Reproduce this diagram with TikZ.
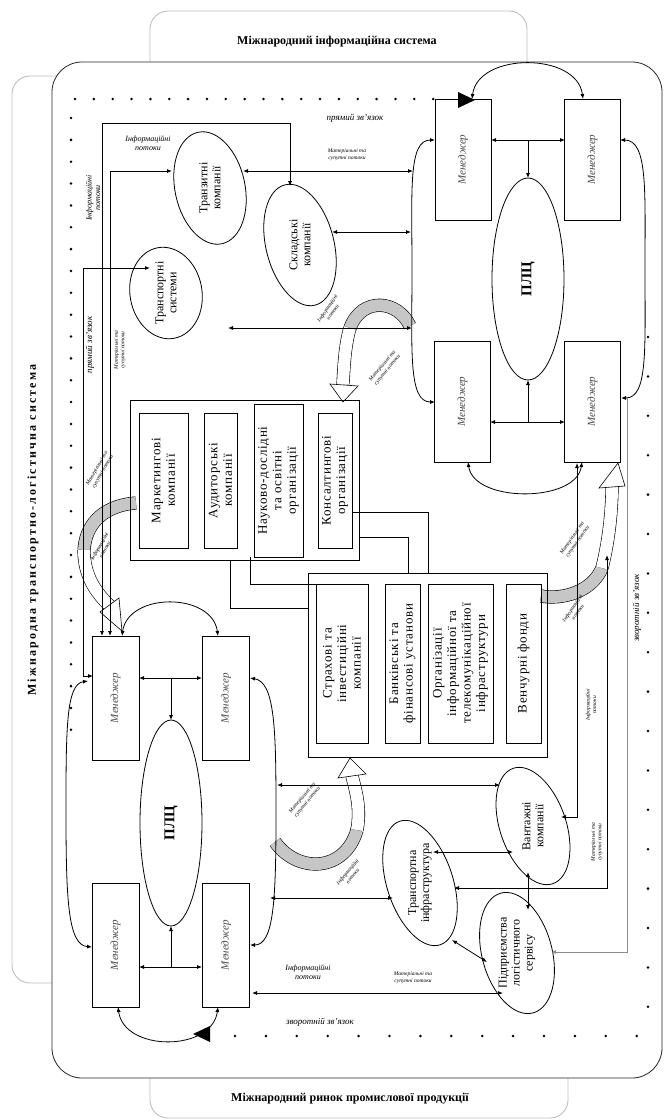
\documentclass[tikz,border=0pt]{standalone}
\usepackage{fontspec}
\setmainfont{Liberation Serif}
\usetikzlibrary{arrows.meta,shapes.geometric}
\begin{document}
\begin{tikzpicture}[x=1pt,y=-1pt,>={Latex[length=5pt,width=4pt]}]
\tikzset{
 lblbox/.style={draw=black!25,line width=0.9pt,fill=white,rounded corners=18pt},
 framebox/.style={draw=black!85,line width=0.8pt,fill=white,rounded corners=30pt},
 mgr/.style={draw,line width=0.9pt,rectangle,rotate=90,inner sep=0,font=\fontsize{11}{13}\selectfont\itshape,text=black!70},
 plc/.style={draw,ellipse,line width=0.8pt,inner sep=0,rotate=90,font=\fontsize{15}{17}\selectfont\bfseries},
 org/.style={draw,line width=0.9pt,rectangle,rotate=90,align=center,inner sep=0,font=\fontsize{13}{14.5}\selectfont\addfontfeature{LetterSpace=6}},
 ell/.style={draw,ellipse,line width=0.8pt,inner sep=0},
 elltxt/.style={rotate=90,align=center,inner sep=0,font=\fontsize{12}{13}\selectfont},
 con/.style={line width=0.8pt},
 sm/.style={font=\fontsize{5.5}{6.5}\selectfont\itshape,align=center,inner sep=0},
 inf/.style={font=\fontsize{8}{8.5}\selectfont\itshape,align=center,inner sep=0},
 zv/.style={font=\fontsize{9}{10}\selectfont\itshape,inner sep=0},
 band/.style={line width=0.6pt,double distance=12pt},
 ttl/.style={font=\fontsize{12}{14}\selectfont\bfseries,inner sep=0}
}
\useasboundingbox (0,0) rectangle (664,1120);
% label boxes behind the frame
\draw[lblbox] (150,11) rectangle (527,80);
\draw[lblbox] (150,1050) rectangle (568,1118);
\draw[lblbox] (12,76) rectangle (75,983);
\draw[framebox] (52,62) rectangle (662,1078);
\node[ttl] (t1) at (337,42) {Міжнародний інформаційна система};
\node[ttl] (t2) at (350,1099) {Міжнародний ринок промислової продукції};
\node[ttl,rotate=90] (t3) at (33,530) {\addfontfeature{LetterSpace=18}Міжнародна транспортно-логістична система};
% dotted lines
\foreach \i in {0,...,19} \fill ({75+18.85*\i},99) circle (1.4);
\foreach \i in {0,...,28} \fill (71,{118+21.85*\i}) circle (1.4);
\foreach \i in {0,...,17} \fill (648,{337+39.4*\i}) circle (1.4);
\foreach \i in {0,...,13} \fill ({235+30.9*\i},1036) circle (1.4);
\fill (475,100) -- (458,92) -- (458,108) -- cycle;
\fill (193,1034) -- (210,1026) -- (210,1042) -- cycle;
\node[zv] (z1) at (355,118) {прямий зв'язок};
\node[zv,rotate=90] (z2) at (90,345) {прямий зв'язок};
\node[zv] (z3) at (320,1022) {зворотній зв'язок};
\node[zv,rotate=90] (z4) at (637,608) {зворотній зв'язок};
% block arrows
\draw[band,double=gray!45] (410,326) .. controls (398,300) and (362,296) .. (350,328);
\draw[band,double=white] (350,328) .. controls (345,345) and (344,365) .. (343,384);
\filldraw[fill=white,line width=0.6pt] (330,384) -- (358,386) -- (343,402) -- cycle;
\draw[band,double=gray!45] (136,503) .. controls (108,505) and (86,520) .. (84,550);
\draw[band,double=white] (84,550) .. controls (84,575) and (95,592) .. (110,606);
\filldraw[fill=white,line width=0.6pt] (100,612) -- (119,598) -- (122,631) -- cycle;
\draw[band,double=gray!45] (275,842) .. controls (298,874) and (345,872) .. (357,830);
\draw[band,double=white] (357,830) .. controls (361,808) and (356,792) .. (352,776);
\filldraw[fill=white,line width=0.6pt] (338,778) -- (366,774) -- (350,758) -- cycle;
\draw[band,double=gray!45] (541,596) .. controls (562,600) and (592,592) .. (602,568);
\draw[band,double=white] (602,568) .. controls (609,540) and (612,510) .. (612,486);
\filldraw[fill=white,line width=0.6pt] (599,488) -- (625,486) -- (618,463) -- cycle;
% upper cluster
\node[mgr,minimum width=121,minimum height=56] (m1) at (463,159.5) {Менеджер};
\node[mgr,minimum width=121,minimum height=56] (m2) at (592.5,159.5) {Менеджер};
\node[mgr,minimum width=121,minimum height=56] (m3) at (462.5,401.5) {Менеджер};
\node[mgr,minimum width=121,minimum height=56] (m4) at (592.5,401.5) {Менеджер};
\node[plc,minimum width=202,minimum height=72] (p1) at (528,279) {ПЛЦ};
\draw[con,<->] (491,140) -- (565,140);
\draw[con,->] (528,140) -- (528,178);
\draw[con,<->] (490,422) -- (565,422);
\draw[con,->] (528,422) -- (528,380);
\draw[con,<->] (472,99) .. controls (478,52) and (577,52) .. (583,99);
\draw[con,<->] (468,462) .. controls (474,503) and (576,503) .. (582,462);
\draw[con,<->] (435,140) .. controls (408,140) and (412,190) .. (412,270) .. controls (412,350) and (408,402) .. (435,402);
\draw[con,<->] (620,140) .. controls (648,140) and (645,190) .. (645,270) .. controls (645,350) and (648,398) .. (621,398);
% lower cluster
\node[mgr,minimum width=124,minimum height=47] (m5) at (115.5,698) {Менеджер};
\node[mgr,minimum width=124,minimum height=47] (m6) at (226,698) {Менеджер};
\node[mgr,minimum width=124,minimum height=47] (m7) at (115.5,945) {Менеджер};
\node[mgr,minimum width=124,minimum height=47] (m8) at (226,945) {Менеджер};
\node[plc,minimum width=206,minimum height=62] (p2) at (171,823) {ПЛЦ};
\draw[con,<->] (139,678) -- (202,678);
\draw[con,->] (171,678) -- (171,720);
\draw[con,<->] (139,967) -- (202,967);
\draw[con,->] (171,967) -- (171,926);
\draw[con,<->] (122,636) .. controls (128,592) and (212,592) .. (218,636);
\draw[con,<->] (118,1007) .. controls (124,1052) and (212,1052) .. (218,1007);
\draw[con,<->] (88,681) .. controls (66,684) and (66,730) .. (66,812) .. controls (66,900) and (68,945) .. (92,947);
\draw[con,<->] (250,678) .. controls (275,682) and (276,730) .. (276,812) .. controls (276,900) and (274,945) .. (250,945);
% organisations
\node[draw,line width=0.9pt,minimum width=229,minimum height=160,inner sep=0] (b1) at (244.5,480) {};
\node[org,minimum width=135,minimum height=49] (o1) at (163.5,480.5) {Маркетингові\\компанії};
\node[org,minimum width=135,minimum height=33] (o2) at (220.5,480.5) {Аудиторські\\компанії};
\node[org,minimum width=153,minimum height=49] (o3) at (278.5,480.5) {Науково-дослідні\\та освітні\\організації};
\node[org,minimum width=135,minimum height=34] (o4) at (335,480.5) {Консалтингові\\організації};
\node[draw,line width=0.9pt,minimum width=239,minimum height=184,inner sep=0] (b2) at (427.5,665) {};
\node[org,minimum width=159,minimum height=52] (o5) at (342,663.5) {Страхові та\\інвестиційні\\компанії};
\node[org,minimum width=159,minimum height=35] (o6) at (402.5,663.5) {Банківські та\\фінансові установи};
\node[org,minimum width=159,minimum height=65] (o7) at (460.5,663.5) {Організації\\інформаційної та\\телекомунікаційної\\інфраструктури};
\node[org,minimum width=159,minimum height=35] (o8) at (523.5,663.5) {Венчурні фонди};
\draw[con] (230,560) -- (230,608) -- (308,608);
\draw[con] (250,557) -- (250,584) -- (316,584);
\draw[con] (352,512) -- (428,512) -- (428,573);
\draw[con] (359,537) -- (408,537) -- (408,573);
% ellipses
\node[ell,minimum width=114,minimum height=70,rotate=102] (e1) at (210,188) {};
\node[elltxt] at (e1) {Транзитні\\компанії};
\node[ell,minimum width=124,minimum height=68,rotate=104] (e2) at (300,245) {};
\node[elltxt] at (e2) {Складські\\компанії};
\node[ell,minimum width=92,minimum height=72,rotate=100] (e3) at (166,293) {};
\node[elltxt] at (e3) {Транспортні\\системи};
\node[ell,minimum width=122,minimum height=66,rotate=109] (e4) at (533,826) {};
\node[elltxt] at (e4) {Вантажні\\компанії};
\node[ell,minimum width=130,minimum height=66,rotate=108] (e5) at (420,883) {};
\node[elltxt] at (e5) {Транспортна\\інфраструктура};
\node[ell,minimum width=124,minimum height=70,rotate=105] (e6) at (517,953) {};
\node[elltxt] at (e6) {Підприємства\\логістичного\\сервісу};
% left long lines
\draw[con,<->] (150,268) -- (83,268) -- (83,676) -- (93,676);
\draw[con,<->] (290,186) -- (290,123) -- (102,123) -- (102,636);
\draw[con,<->] (172,171) -- (110,171) -- (110,636);
\draw[con,<->] (243,171) -- (413,171);
\draw[con,<->] (332,232) -- (411,232);
\draw[con,<->] (228,328) -- (412,328);
% lower right lines
\draw[con,<->] (277,785) -- (500,785);
\draw[con,<->] (270,898) -- (393,898);
\draw[con,<->] (252,993) -- (503,993);
\draw[con,<->] (433,852) -- (513,852);
\draw[con,<->] (528,872) -- (528,910);
\draw[con,<->] (452,940) -- (487,962);
\draw[con,<->] (577,463) -- (577,817) -- (561,817);
\draw[con,<->] (607,555) -- (607,888) -- (454,888);
\draw[con,->,draw=black!45] (627,398) -- (627,952) -- (551,952);
% small labels
\node[inf] (l1) at (148,143) {Інформаційні\\потоки};
\node[inf,rotate=90] (l2) at (93,198) {Інформаційні\\потоки};
\node[sm,rotate=90] (l3) at (120,350) {Матеріальні та\\супутні потоки};
\node[sm] (l4) at (347,155) {Матеріальні та\\супутні потоки};
\node[sm,rotate=55] (l5) at (330,310) {Інформаційні\\потоки};
\node[sm,rotate=50] (l6) at (385,368) {Матеріальні та\\супутні потоки};
\node[sm,rotate=60] (l7) at (100,470) {Матеріальні та\\супутні потоки};
\node[sm,rotate=60] (l8) at (102,548) {Інформаційні\\потоки};
\node[sm,rotate=50] (l9) at (305,800) {Матеріальні та\\супутні потоки};
\node[sm,rotate=50] (l10) at (350,874) {Інформаційні\\потоки};
\node[sm,rotate=55] (l11) at (575,540) {Матеріальні та\\супутні потоки};
\node[sm,rotate=55] (l12) at (575,610) {Інформаційні\\потоки};
\node[sm,rotate=90] (l13) at (591,705) {Інформаційні\\потоки};
\node[sm,rotate=90] (l14) at (597,842) {Матеріальні та\\супутні потоки};
\node[inf] (l15) at (308,972) {Інформаційні\\потоки};
\node[sm] (l16) at (413,978) {Матеріальні та\\супутні потоки};
\end{tikzpicture}
\end{document}
